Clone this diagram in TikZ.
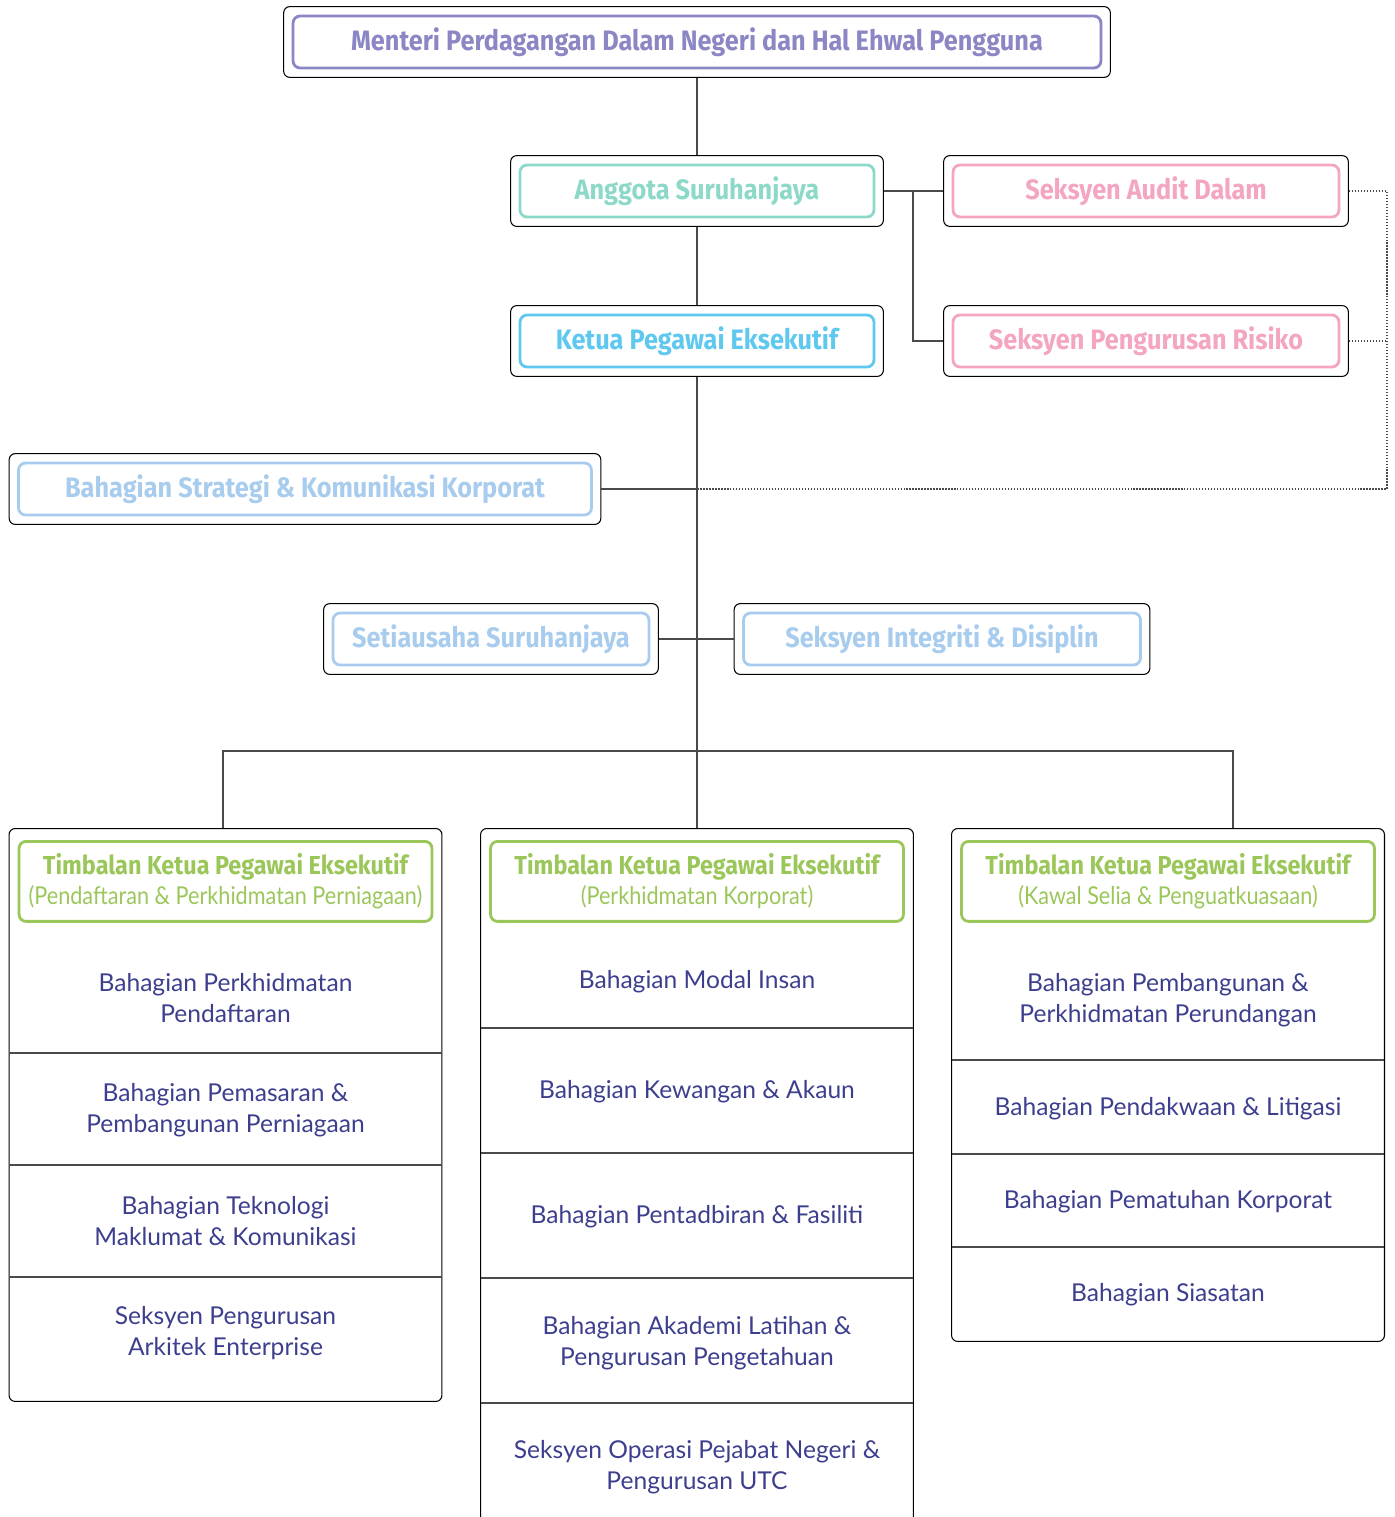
\documentclass[tikz,border=0pt]{standalone}
\usepackage{fontspec}
\setmainfont{Lato}
\newfontfamily\headfont{Fira Sans}[FakeStretch=0.9]
\newfontfamily\subfont{Lato}[FakeStretch=0.88]
\usetikzlibrary{positioning, fit, calc}

\definecolor{cPurple}{HTML}{8B86C4}
\definecolor{cTeal}{HTML}{8DD9C9}
\definecolor{cCyan}{HTML}{5FC8EE}
\definecolor{cPink}{HTML}{F3A5C2}
\definecolor{cSky}{HTML}{A8CCEE}
\definecolor{cGreen}{HTML}{9BC75A}
\definecolor{cNavy}{HTML}{3D3F8E}
\definecolor{cLine}{HTML}{4A4A4A}

\begin{document}
\begin{tikzpicture}[x=0.02cm, y=-0.02cm,
    inbox/.style={rectangle, draw=#1, text=#1, line width=1.6pt, rounded corners=4pt, minimum height=1.04cm, font=\headfont\bfseries\fontsize{16}{18}\selectfont},
    outbox/.style={rectangle, draw=black, line width=0.6pt, rounded corners=3.5pt, inner sep=0.16cm},
    colbox/.style={rectangle, draw=black, line width=0.6pt, rounded corners=3.5pt, minimum width=8.66cm, anchor=north},
    headbox/.style={rectangle, draw=cGreen, text=cGreen, line width=1.6pt, rounded corners=4pt, minimum width=8.26cm, minimum height=1.6cm, align=center, anchor=north, font=\headfont\bfseries\fontsize{14.8}{17}\selectfont},
    unit/.style={align=center, text=cNavy, font=\fontsize{14}{18}\selectfont},
    link/.style={draw=cLine, line width=0.8pt},
    dotlink/.style={draw=cLine, line width=0.7pt, densely dotted},
    divider/.style={draw=cLine, line width=0.8pt}
]
\useasboundingbox (0,0) rectangle (1394,1517);
\clip (0,0) rectangle (1394,1517);

% Top management
\node[inbox=cPurple, minimum width=16.16cm] (mentri-in) at (697,42) {Menteri Perdagangan Dalam Negeri dan Hal Ehwal Pengguna};
\node[outbox, fit=(mentri-in)] (mentri) {};
\node[inbox=cTeal, minimum width=7.08cm] (anggota-in) at (697,191) {Anggota Suruhanjaya};
\node[outbox, fit=(anggota-in)] (anggota) {};
\node[inbox=cCyan, minimum width=7.08cm] (ketua-in) at (697,341) {Ketua Pegawai Eksekutif};
\node[outbox, fit=(ketua-in)] (ketua) {};

% Audit and risk
\node[inbox=cPink, minimum width=7.72cm] (audit-in) at (1146,191) {Seksyen Audit Dalam};
\node[outbox, fit=(audit-in)] (audit) {};
\node[inbox=cPink, minimum width=7.72cm] (risiko-in) at (1146,341) {Seksyen Pengurusan Risiko};
\node[outbox, fit=(risiko-in)] (risiko) {};

% Units under CEO
\node[inbox=cSky, minimum width=11.46cm] (strategi-in) at (305,489) {Bahagian Strategi \& Komunikasi Korporat};
\node[outbox, fit=(strategi-in)] (strategi) {};
\node[inbox=cSky, minimum width=6.32cm] (setia-in) at (491,639) {Setiausaha Suruhanjaya};
\node[outbox, fit=(setia-in)] (setia) {};
\node[inbox=cSky, minimum width=7.94cm] (integ-in) at (942,639) {Seksyen Integriti \& Disiplin};
\node[outbox, fit=(integ-in)] (integ) {};

% Deputy CEO columns
\node[colbox, minimum height=11.46cm] (colA) at (225.5,828) {};
\node[colbox, minimum height=14.2cm] (colB) at (697,828) {};
\node[colbox, minimum height=10.26cm] (colC) at (1168,828) {};

\node[headbox] (tkpA) at (225.5,840) {Timbalan Ketua Pegawai Eksekutif\\{\subfont\mdseries\fontsize{14}{17}\selectfont(Pendaftaran \& Perkhidmatan Perniagaan)}};
\node[headbox] (tkpB) at (697,840) {Timbalan Ketua Pegawai Eksekutif\\{\subfont\mdseries\fontsize{14}{17}\selectfont(Perkhidmatan Korporat)}};
\node[headbox] (tkpC) at (1168,840) {Timbalan Ketua Pegawai Eksekutif\\{\subfont\mdseries\fontsize{14}{17}\selectfont(Kawal Selia \& Penguatkuasaan)}};

% Column A rows
\draw[divider] (9,1053) -- (442,1053);
\draw[divider] (9,1165) -- (442,1165);
\draw[divider] (9,1277) -- (442,1277);
\node[unit] (a1) at (225.5,998) {Bahagian Perkhidmatan\\Pendaftaran};
\node[unit] (a2) at (225.5,1110) {Bahagian Pemasaran \&\\Pembangunan Perniagaan};
\node[unit] (a3) at (225.5,1221) {Bahagian Teknologi\\Maklumat \& Komunikasi};
\node[unit] (a4) at (225.5,1333) {Seksyen Pengurusan\\Arkitek Enterprise};

% Column B rows
\draw[divider] (481,1028) -- (913,1028);
\draw[divider] (481,1153) -- (913,1153);
\draw[divider] (481,1278) -- (913,1278);
\draw[divider] (481,1403) -- (913,1403);
\node[unit] (b1) at (697,982) {Bahagian Modal Insan};
\node[unit] (b2) at (697,1092) {Bahagian Kewangan \& Akaun};
\node[unit] (b3) at (697,1217) {Bahagian Pentadbiran \& Fasiliti};
\node[unit] (b4) at (697,1343) {Bahagian Akademi Latihan \&\\Pengurusan Pengetahuan};
\node[unit] (b5) at (697,1467) {Seksyen Operasi Pejabat Negeri \&\\Pengurusan UTC};

% Column C rows
\draw[divider] (952,1060) -- (1384,1060);
\draw[divider] (952,1154) -- (1384,1154);
\draw[divider] (952,1247) -- (1384,1247);
\node[unit] (c1) at (1168,1000) {Bahagian Pembangunan \&\\Perkhidmatan Perundangan};
\node[unit] (c2) at (1168,1109) {Bahagian Pendakwaan \& Litigasi};
\node[unit] (c3) at (1168,1202) {Bahagian Pematuhan Korporat};
\node[unit] (c4) at (1168,1295) {Bahagian Siasatan};

% Connectors
\coordinate (br) at (913,191);
\coordinate (dr) at (1387,191);
\coordinate (sj) at (697,489);
\coordinate (bj) at (697,751);
\coordinate (dropA) at (223,828);
\coordinate (dropC) at (1233,828);
\draw[link] (mentri) -- (anggota);
\draw[link] (anggota) -- (ketua);
\draw[link] (ketua) -- (colB.north);
\draw[link] (anggota) -- (audit);
\draw[link] (br) |- (risiko.west);
\draw[link] (strategi) -- (sj);
\draw[link] (setia) -- (integ);
\draw[link] (bj) -| (dropA);
\draw[link] (bj) -| (dropC);
\draw[dotlink] (audit.east) -- (dr) |- (sj);
\draw[dotlink] (risiko.east) -- (risiko.east -| dr);

\end{tikzpicture}
\end{document}
